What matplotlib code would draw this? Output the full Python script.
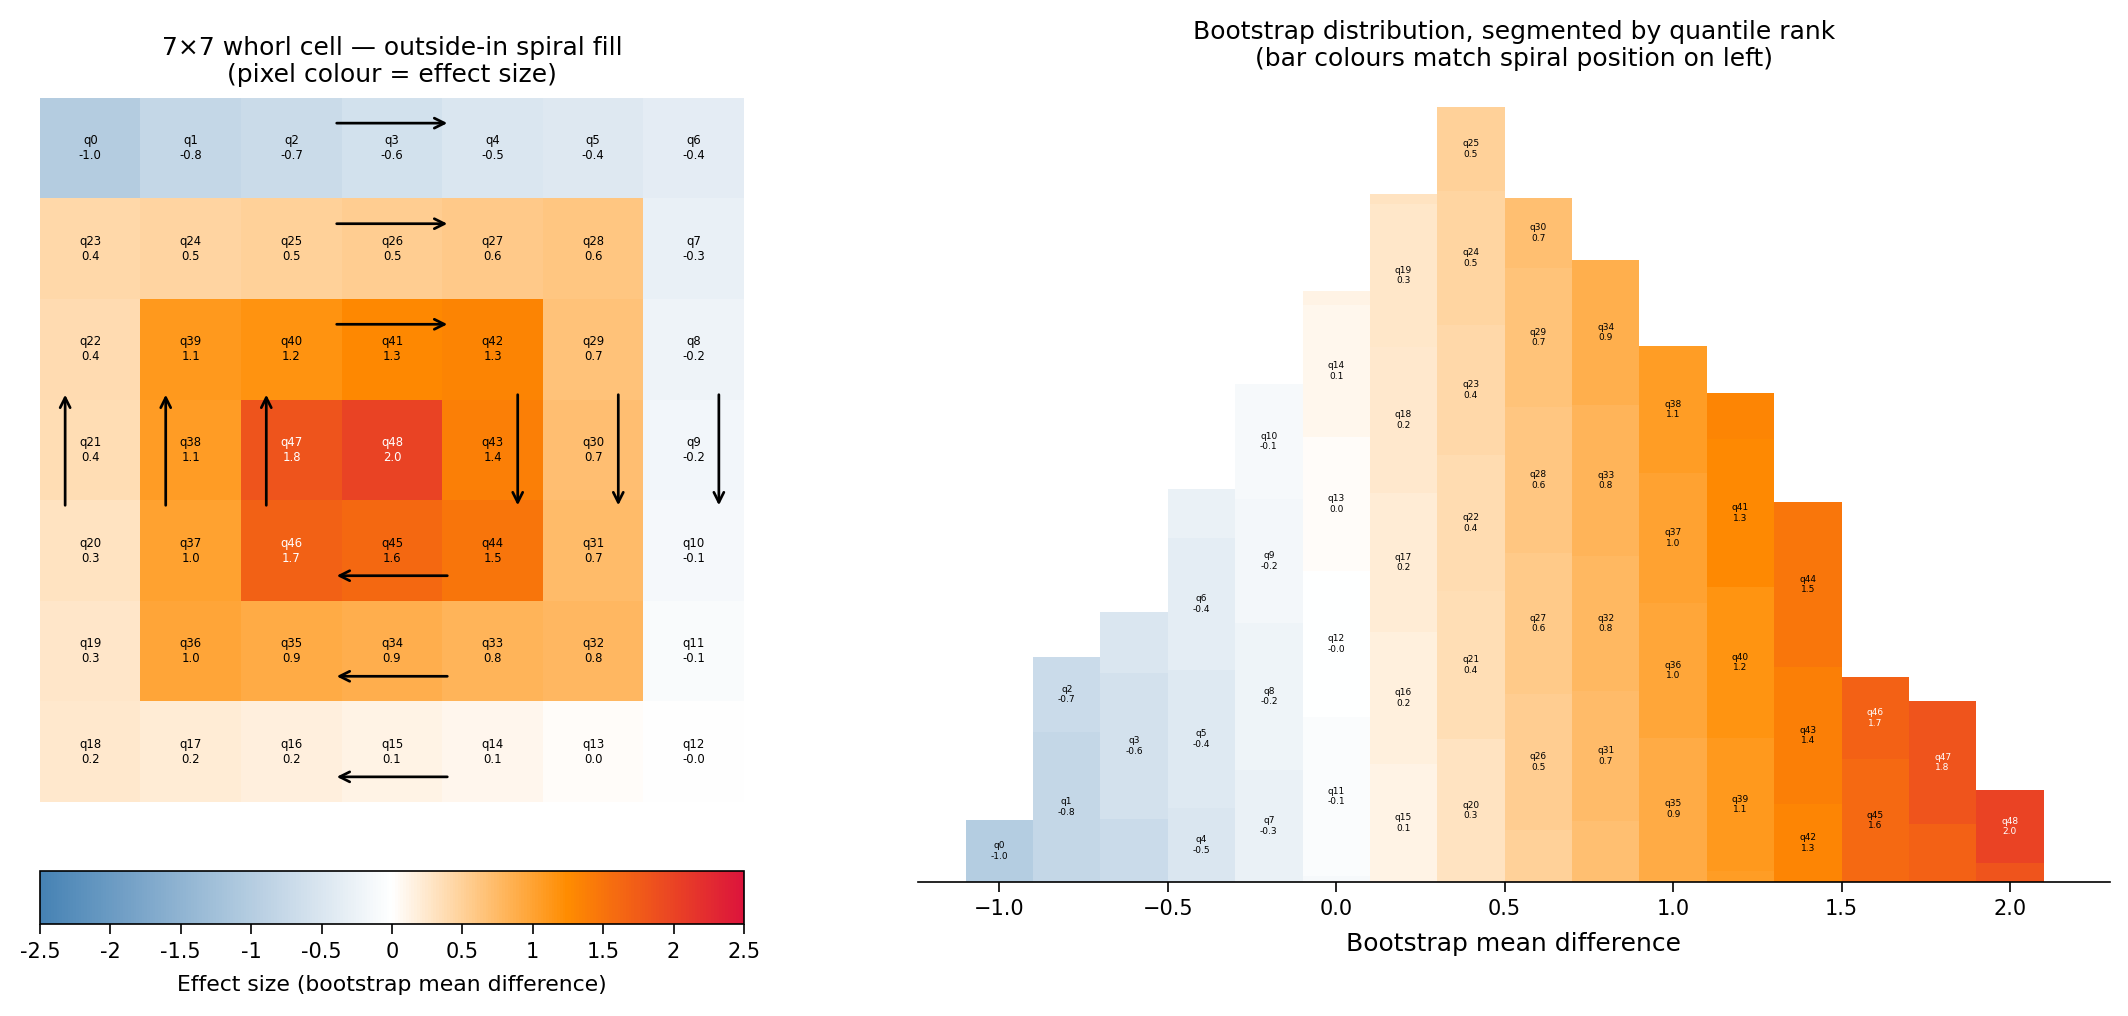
import numpy as np
import matplotlib
matplotlib.use("Agg")
import matplotlib.pyplot as plt
from matplotlib.colors import LinearSegmentedColormap

# ---------------- data ----------------
# effect size of each quantile q0..q48 (sorted)
q_values = [-1.00, -0.80, -0.71, -0.60, -0.49, -0.43, -0.37, -0.28, -0.23, -0.17,
            -0.12, -0.06, -0.01, 0.03, 0.09, 0.13, 0.17, 0.21, 0.24, 0.27,
            0.31, 0.36, 0.38, 0.42, 0.46, 0.49, 0.53, 0.57, 0.61, 0.66,
            0.69, 0.73, 0.77, 0.82, 0.86, 0.91, 0.96, 1.00, 1.06, 1.10,
            1.16, 1.27, 1.31, 1.37, 1.47, 1.62, 1.69, 1.83, 2.00]

# histogram bins (centres) and the quantile segments stacked in each bin
bin_centers = [-1.0, -0.8, -0.6, -0.4, -0.2, 0.0, 0.2, 0.4,
               0.6, 0.8, 1.0, 1.2, 1.4, 1.6, 1.8, 2.0]
seg_quantile = [
    [0],
    [1, 2],
    [2, 3, 4],
    [4, 5, 6, 7],
    [7, 8, 9, 10],
    [10, 11, 12, 13, 14, 15],
    [15, 16, 17, 18, 19, 20],
    [20, 21, 22, 23, 24, 25],
    [25, 26, 27, 28, 29, 30],
    [30, 31, 32, 33, 34],
    [34, 35, 36, 37, 38],
    [38, 39, 40, 41, 42],
    [42, 43, 44],
    [45, 46],
    [46, 47],
    [47, 48],
]
seg_count = [
    [62],
    [150, 75],
    [63, 146, 61],
    [74, 138, 132, 49],
    [112, 147, 124, 115],
    [6, 159, 146, 134, 132, 14],
    [118, 132, 139, 146, 143, 10],
    [143, 148, 136, 130, 134, 84],
    [52, 136, 141, 146, 139, 70],
    [61, 130, 135, 151, 145],
    [2, 142, 135, 130, 127],
    [11, 133, 151, 148, 46],
    [78, 137, 165],
    [123, 82],
    [58, 123],
    [19, 73],
]
bin_width = 0.2

cbar_ticks = [-2.5, -2.0, -1.5, -1.0, -0.5, 0.0, 0.5, 1.0, 1.5, 2.0, 2.5]

# ---------------- helpers ----------------
N = 7
cmap = LinearSegmentedColormap.from_list(
    "whorl", [(0.0, "steelblue"), (0.5, "white"), (0.75, "darkorange"), (1.0, "crimson")])
vmin, vmax = -2.5, 2.5
norm = plt.Normalize(vmin, vmax)

def txt_color(v):
    return "white" if abs(v) >= 1.65 else "black"

# outside-in clockwise spiral positions
order = []
top, bottom, left, right = 0, N - 1, 0, N - 1
while top <= bottom and left <= right:
    for c in range(left, right + 1):
        order.append((top, c))
    for r in range(top + 1, bottom + 1):
        order.append((r, right))
    if top < bottom:
        for c in range(right - 1, left - 1, -1):
            order.append((bottom, c))
    if left < right:
        for r in range(bottom - 1, top, -1):
            order.append((r, left))
    top += 1; bottom -= 1; left += 1; right -= 1

grid = np.zeros((N, N))
for k, (r, c) in enumerate(order):
    grid[r, c] = q_values[k]

# ---------------- figure ----------------
W, H = 2128, 1016
DPI = 150
fig = plt.figure(figsize=(W / DPI, H / DPI), dpi=DPI)

ax_h = fig.add_axes([40 / W, (H - 802) / H, 704 / W, 704 / H])
im = ax_h.imshow(grid, cmap=cmap, vmin=vmin, vmax=vmax)
ax_h.axis("off")
for k, (r, c) in enumerate(order):
    v = q_values[k]
    ax_h.text(c, r, f"q{k}\n{v:.1f}", ha="center", va="center",
              fontsize=5.6, color=txt_color(v))

arrow_kw = dict(arrowstyle="->", lw=1.3, color="black",
                shrinkA=0, shrinkB=0, mutation_scale=12)
half = 0.55
for r in (0, 1, 2):
    ax_h.annotate("", xy=(3 + half, r - 0.25), xytext=(3 - half, r - 0.25), arrowprops=arrow_kw)
for r in (4, 5, 6):
    ax_h.annotate("", xy=(3 - half, r + 0.25), xytext=(3 + half, r + 0.25), arrowprops=arrow_kw)
for c in (0, 1, 2):
    ax_h.annotate("", xy=(c - 0.25, 3 - half), xytext=(c - 0.25, 3 + half), arrowprops=arrow_kw)
for c in (4, 5, 6):
    ax_h.annotate("", xy=(c + 0.25, 3 + half), xytext=(c + 0.25, 3 - half), arrowprops=arrow_kw)

ax_h.set_title("7×7 whorl cell — outside-in spiral fill\n(pixel colour = effect size)",
               fontsize=12, pad=7.5)

cax = fig.add_axes([40 / W, (H - 924) / H, 704 / W, 53 / H])
cb = fig.colorbar(im, cax=cax, orientation="horizontal")
cb.set_ticks(cbar_ticks)
cb.set_ticklabels([f"{t:g}" for t in cbar_ticks])
cb.ax.tick_params(labelsize=10, length=5)
cb.set_label("Effect size (bootstrap mean difference)", fontsize=10.5, labelpad=6.5)

# ---------------- right: segmented histogram ----------------
ax_b = fig.add_axes([918 / W, (H - 882) / H, (2110 - 918) / W, (882 - 83) / H])

# bin in which each quantile gets its label (largest piece)
best = {}
for i, (qs, cs) in enumerate(zip(seg_quantile, seg_count)):
    for q, cnt in zip(qs, cs):
        if q not in best or cnt > best[q][1]:
            best[q] = (i, cnt)

totals = []
for i, (x, qs, cs) in enumerate(zip(bin_centers, seg_quantile, seg_count)):
    bottom_ = 0
    for q, cnt in zip(qs, cs):
        v = q_values[q]
        ax_b.bar(x, cnt, width=bin_width, bottom=bottom_, color=cmap(norm(v)),
                 edgecolor="none", linewidth=0)
        if best[q][0] == i:
            ax_b.text(x, bottom_ + cnt / 2, f"q{q}\n{v:.1f}", ha="center", va="center",
                      fontsize=4.3, color=txt_color(v))
        bottom_ += cnt
    totals.append(bottom_)

ax_b.set_xlim(-1.2415, 2.297)
ax_b.set_ylim(0, max(totals) * 1.031)
for s in ("top", "right", "left"):
    ax_b.spines[s].set_visible(False)
ax_b.set_yticks([])
ax_b.tick_params(axis="x", labelsize=10, length=4.8)
ax_b.set_xlabel("Bootstrap mean difference", fontsize=12, labelpad=6)
ax_b.set_title("Bootstrap distribution, segmented by quantile rank\n"
               "(bar colours match spiral position on left)", fontsize=12, pad=8)

fig.savefig("out.png", dpi=DPI)
